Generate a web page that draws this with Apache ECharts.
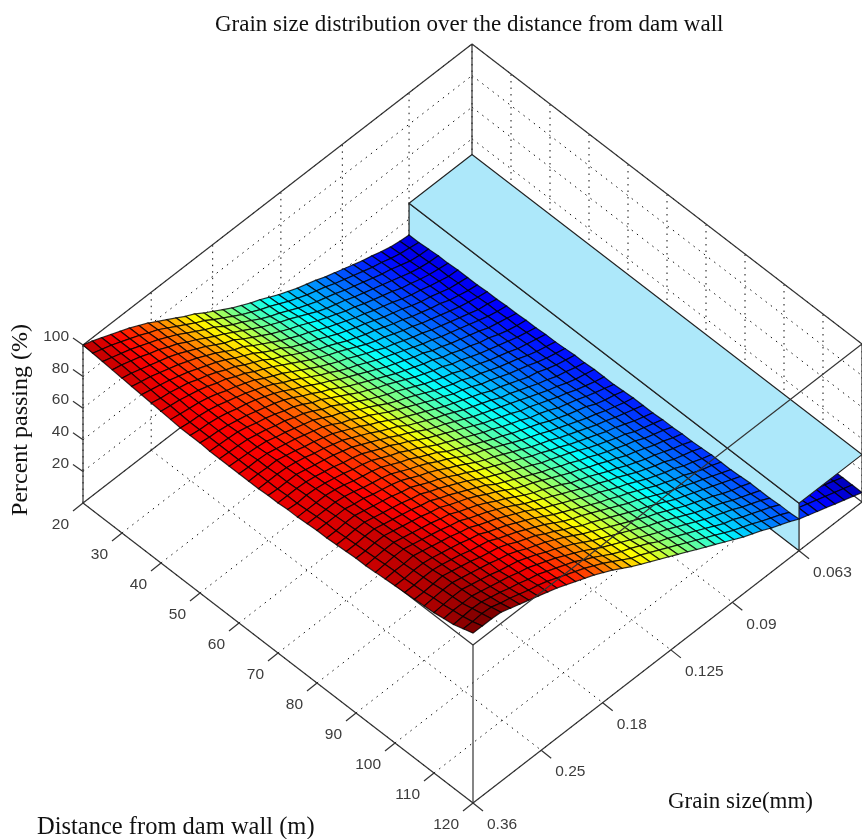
<!DOCTYPE html>
<html><head><meta charset="utf-8">
<style>html,body{margin:0;padding:0;background:#fff}#c{width:862px;height:839px}</style>
<script src="https://cdn.jsdelivr.net/npm/echarts@6/dist/echarts.min.js"></script>
</head><body><div id="c"></div>
<script>
const chartTitle = 'Grain size distribution over the distance from dam wall';
const distanceTicks = [20,30,40,50,60,70,80,90,100,110,120];
const grainTicks = [0.36,0.25,0.18,0.125,0.09,0.063];
const percentTicks = [20,40,60,80,100];
const blockHeight = 30;
const distances = [20,22.5,25,27.5,30,32.5,35,37.5,40,42.5,45,47.5,50,52.5,55,57.5,60,62.5,65,67.5,70,72.5,75,77.5,80,82.5,85,87.5,90,92.5,95,97.5,100,102.5,105,107.5,110,112.5,115,117.5,120];
const grains = [.36,.3425,.3259,.31,.295,.2807,.267,.2541,.2417,.23,.2188,.2082,.1981,.1885,.1793,.1706,.1623,.1544,.1469,.1398,.133,.1265,.1204,.1145,.109,.1037,.0986,.0938,.0893,.0849,.0808,.0769,.0731,.0696,.0662,.063,.06,.0572,.0545,.052,.0495,.0472,.045];
const percentPassing = [
[100,98,95.5,93,90.5,88,85,82,78.5,75,71.5,68,65,61,57.5,54,50.5,47.5,44.5,42,39,36,33.5,31,29,27,24.5,22.5,20.5,18.5,16.5,15,13,11.5,10.5,10,9,8,7.5,7,6,5,4],
[99.5,97.5,95.5,93,90.5,88,85,82.5,79,75.5,72,68.5,65.5,61.5,58,54.5,51,48,45,42.5,39.5,36.5,34,31.5,29.5,27.5,25,23,21,19,17,15.5,13.5,12,11,10,9,8,7.5,7,6,5,4],
[99,97,95,93,90.5,88,85.5,82.5,79.5,76,72.5,69,66,62,58.5,55.5,52,48.5,45.5,43,40,37,34.5,32,30,28,25.5,23.5,21.5,19.5,17.5,16,14,12,11,10.5,9.5,8.5,8,7,6,5,4],
[98.5,97,95,93,90.5,88.5,85.5,83,79.5,76.5,73,69.5,66.5,63,59.5,56,52.5,49.5,46.5,44,41,38,35,32.5,30.5,28.5,26,24,22,20,18,16,14,12.5,11.5,11,9.5,8.5,8,7.5,6.5,5,4],
[98,96.5,94.5,92.5,90.5,88.5,86,83,80,77,73.5,70,67.5,63.5,60,56.5,53,50,47,44.5,41.5,38.5,36,33.5,31,29,26.5,24.5,22.5,20.5,18,16.5,14.5,13,12,11,10,9,8,7.5,6.5,5.5,4],
[97.5,96,94.5,92.5,90.5,88.5,86,83.5,80.5,77.5,74,70.5,68,64,60.5,57,53.5,50.5,47.5,45,42,39,36.5,34,31.5,29.5,27,25,23,20.5,18.5,17,15,13.5,12,11.5,10,9,8.5,7.5,6.5,5.5,4.5],
[97,95.5,94,92.5,90.5,88.5,86,83.5,81,78,74.5,71.5,68.5,64.5,61,58,54,51,48,45.5,42.5,39.5,37,34.5,32.5,30,27.5,25.5,23.5,21,19,17.5,15.5,13.5,12.5,11.5,10.5,9,8.5,8,6.5,5.5,4.5],
[96.5,95,94,92.5,91,88.5,86.5,84,81,78.5,75,72,69,65,62,58.5,55,52,48.5,46,43,40,37.5,35,33,30.5,28,26,23.5,21.5,19.5,18,15.5,14,12.5,11.5,10.5,9.5,8.5,8,6.5,5.5,4.5],
[96,95,94,92.5,91,89,86.5,84.5,81.5,79,75.5,72.5,69.5,66,62.5,59,55.5,52.5,49.5,47,44,41,38,35.5,33.5,31,28.5,26.5,24,22,20,18,16,14.5,13,12,11,9.5,9,8,7,5.5,4.5],
[95.5,94.5,93.5,92.5,91,89,86.5,84.5,82,79.5,76,73,70,66.5,63,59.5,56,53,50,47.5,44.5,41.5,39,36,34,31.5,29,27,24.5,22.5,20.5,18.5,16.5,14.5,13.5,12,11,10,9,8,7,5.5,4.5],
[95,94,93.5,92.5,91,89,87,85,82.5,80,77,73.5,70.5,67,63.5,60,57,53.5,50.5,48,45,42,39.5,37,34.5,32,29.5,27.5,25,23,21,19,17,15,13.5,12.5,11,10,9,8,7,6,4.5],
[95,94,93.5,92.5,91,89,87.5,85.5,83,80.5,77.5,74,71,67.5,64,61,57.5,54.5,51.5,48.5,45.5,42.5,40,37.5,35,33,30,28,25.5,23.5,21.5,19.5,17,15.5,14,12.5,11.5,10,9.5,8.5,7,6,4.5],
[95,94,93.5,92.5,91,89.5,87.5,85.5,83.5,81,78,74.5,71.5,68,65,61.5,58,55,52,49,46,43,40.5,38,35.5,33.5,30.5,28.5,26,24,21.5,20,17.5,15.5,14,13,11.5,10.5,9.5,8.5,7,6,4.5],
[94.5,94,93.5,93,91.5,89.5,88,86,83.5,81.5,78.5,75,72.5,69,65.5,62,58.5,55.5,52.5,50,47,44,41,38.5,36,34,31,29,26.5,24,22,20,18,16,14.5,13,12,10.5,9.5,8.5,7.5,6,4.5],
[94.5,94,93.5,93,91.5,90,88,86.5,84,82,79,75.5,73,69.5,66,62.5,59,56,53,50.5,47.5,44.5,41.5,39,36.5,34.5,31.5,29.5,27,24.5,22.5,20.5,18,16.5,15,13.5,12,11,10,8.5,7.5,6,4.5],
[94.5,94,93.5,93,92,90,88.5,86.5,84.5,82.5,79.5,76,73.5,70,66.5,63.5,60,56.5,53.5,51,48,45,42,39.5,37,35,32,30,27.5,25,23,21,18.5,16.5,15,13.5,12.5,11,10,9,7.5,6,5],
[94.5,94,94,93.5,92,90.5,89,87,85,83,80,76.5,74,70.5,67.5,64,60.5,57.5,54.5,51.5,48.5,45.5,43,40,38,35.5,32.5,30.5,28,25.5,23.5,21.5,19,17,15.5,14,12.5,11,10,9,7.5,6,5],
[94.5,94.5,94,94,92.5,91,89,87.5,85.5,83.5,80.5,77.5,74.5,71,68,64.5,61,58,55,52,49,46,43.5,41,38.5,36,33,31,28.5,26,23.5,22,19.5,17.5,16,14.5,13,11.5,10,9,7.5,6.5,5],
[94.5,94.5,94.5,94,93,91.5,89.5,88,86,84,81,78,75,71.5,68.5,65.5,61.5,58.5,55.5,52.5,50,47,44,41.5,39,36.5,33.5,31.5,29,26.5,24,22,19.5,18,16,14.5,13,11.5,10.5,9,8,6.5,5],
[95,94.5,94.5,94.5,93,91.5,90,88.5,86.5,84.5,81.5,78.5,75.5,72.5,69,66,62.5,59,56,53.5,50.5,47.5,44.5,42,39.5,37,34.5,32,29.5,27,24.5,22.5,20,18,16.5,15,13.5,12,10.5,9.5,8,6.5,5],
[95,95,95,94.5,93.5,92,90.5,88.5,87,85,82,79,76.5,73,70,66.5,63,60,57,54,51,48,45,42.5,40,37.5,34.5,32.5,30,27.5,25,23,20.5,18.5,16.5,15,13.5,12,10.5,9.5,8,6.5,5],
[95.5,95,95.5,95,94,92.5,91,89,87.5,85.5,82.5,79.5,77,73.5,70.5,67,63.5,60.5,57.5,54.5,51.5,48.5,46,43,40.5,38,35,33,30.5,27.5,25.5,23.5,21,19,17,15,13.5,12,11,9.5,8,6.5,5],
[95.5,95.5,95.5,95.5,94.5,93,91,89.5,88,86,83,80,77.5,74,71,68,64,61,58,55,52,49,46.5,43.5,41,38.5,36,33,30.5,28,26,24,21,19,17.5,15.5,14,12.5,11,10,8,6.5,5],
[96,96,96,96,95,93.5,91.5,90,88.5,86.5,83.5,80.5,78,75,71.5,68.5,65,61.5,58.5,56,53,50,47,44,41.5,39,36,33.5,31,28.5,26,24,21.5,19.5,17.5,16,14,12.5,11,10,8.5,6.5,5],
[96.5,96.5,96.5,96.5,95,94,92,90.5,89,87,84,81,78.5,75.5,72,69,65.5,62,59,56.5,53.5,50.5,47.5,44.5,42,39.5,36.5,34,31.5,29,26.5,24.5,22,20,18,16,14.5,12.5,11.5,10,8.5,7,5],
[96.5,96.5,97,97,95.5,94,92.5,91,89,87.5,84.5,81.5,79,76,72.5,69.5,66,63,60,57,54,51,48,45.5,42.5,40,37,34.5,32,29.5,27,25,22.5,20,18,16,14.5,13,11.5,10,8.5,7,5.5],
[97,97,97.5,97.5,96,94.5,93,91.5,89.5,88,85,82.5,79.5,76.5,73.5,70,66.5,63.5,60.5,57.5,54.5,51.5,48.5,46,43.5,41,38,35,32.5,30,27.5,25.5,22.5,20.5,18.5,16.5,15,13,12,10,8.5,7,5.5],
[97.5,97.5,98,98,96.5,95,93.5,92,90,88.5,85.5,83,80,77,74,71,67,64,61,58,55,52,49.5,46.5,44,41,38.5,35.5,33,30.5,28,26,23,21,19,16.5,15,13.5,12,10.5,8.5,7,5.5],
[98,98,98.5,98.5,97,95.5,94,92.5,90.5,89,86,83.5,81,78,74.5,71.5,68,64.5,61.5,59,56,53,50,47,44.5,41.5,39,36,33.5,30.5,28.5,26,23.5,21.5,19,17,15.5,13.5,12,10.5,9,7,5.5],
[98,98.5,99,99,97.5,96,94.5,93,91,89.5,86.5,84,81.5,78.5,75,72,68.5,65,62,59.5,56.5,53.5,50,47.5,45,42,39,36.5,33.5,31,28.5,26.5,24,21.5,19.5,17,15.5,14,12,10.5,9,7,5.5],
[98.5,99,99.5,99.5,98,96.5,95,93.5,91.5,90,87,84.5,82,79,76,72.5,69,66,63,60,57,54,51,48,45.5,42.5,40,37,34,31.5,29,27,24,22,20,17.5,16,14,12,10.5,9,7,5.5],
[99,99.5,99.5,100,98.5,97,95.5,94,92,90.5,87.5,85,82.5,79.5,76.5,73.5,70,66.5,63.5,60.5,57.5,54.5,51.5,49,46,43,40.5,37.5,34.5,32,29.5,27.5,24.5,22.5,20,18,16,14,12.5,11,9,7,5.5],
[99.5,99.5,100,100,99,97.5,96,94.5,92.5,91,88,85.5,83,80,77,74,70.5,67,64,61,58,55,52,49.5,46.5,44,41,38,35,32.5,30,28,25,22.5,20.5,18,16,14.5,12.5,11,9,7,5.5],
[100,100,100.5,100.5,99.5,98,96.5,94.5,93,91.5,88.5,86,83.5,80.5,77.5,74.5,71,67.5,64.5,62,59,56,53,50,47,44.5,41.5,38.5,35.5,33,30.5,28,25.5,23,20.5,18,16.5,14.5,13,11,9,7,5.5],
[100.5,100.5,101,101.5,100,98.5,97,95,93.5,92,89.5,86.5,84,81.5,78,75,71.5,68.5,65,62.5,59.5,56.5,53.5,50.5,47.5,45,42,39,36,33.5,31,28.5,26,23.5,21,18.5,16.5,15,13,11,9.5,7.5,5.5],
[101,101.5,102,102,100.5,99,97.5,96,94,92.5,90,87,84.5,82,79,76,72.5,69,66,63,60,57,54,51,48,45.5,42.5,39.5,36.5,34,31.5,29,26,23.5,21.5,19,17,15,13,11.5,9.5,7.5,5.5],
[101.5,102,102.5,102.5,101,99.5,98,96,94.5,93,90.5,88,85,82.5,79.5,76.5,73,69.5,66.5,63.5,60.5,57.5,54.5,51.5,49,46,43,40,37,34.5,32,29.5,26.5,24,21.5,19,17,15,13,11.5,9.5,7.5,6],
[102.5,103,103,103,101.5,100,98.5,97,95,93.5,91,88.5,86,83,80,77,73.5,70,67,64,61,58,55,52,49.5,46.5,43.5,40.5,37.5,35,32.5,30,27,24.5,22,19,17.5,15.5,13.5,11.5,9.5,7.5,6],
[103.5,104,104.5,104,102.5,101,99,97.5,95.5,94,91.5,89,86.5,84,80.5,77.5,74,70.5,67.5,65,62,59,55.5,53,50,47,44,41,38,35,33,30,27.5,25,22.5,19.5,17.5,15.5,13.5,12,10,8,6],
[105.5,105.5,106,105.5,103.5,102,100,98,96.5,94.5,92,89.5,87,84.5,81.5,78.5,75,71.5,68,65.5,62.5,59.5,56.5,53.5,50.5,47.5,44.5,41.5,38.5,35.5,33,30.5,27.5,25,22.5,19.5,18,16,14,12,10,8,6],
[107.5,107.5,107.5,107,105,103,101,99,97,95,92.5,90,87.5,85,82,79,75.5,72,69,66,63,60,57,54,51,48,45,42,39,36,33.5,31,28,25.5,23,20,18,16,14,12,10,8,6]
];

// view of the box: where the scene's three unit directions land on the page plane
const view = {ox:83, oy:503, tx:390, ty:300, sx:389, sy:-301, zy:-1.58};
const dMin = 20, dMax = 120, gMax = 0.36, gMin = 0.045, pTop = 100;
function scene(d,g,p){
  const t=(d-dMin)/(dMax-dMin), s=Math.log(gMax/g)/Math.log(gMax/gMin);
  return [view.ox+view.tx*t+view.sx*s, view.oy+view.ty*t+view.sy*s+view.zy*p];
}
const zMin=0, zMax=106;
function jet(p){
  const v=Math.max(0,Math.min(1,(p-zMin)/(zMax-zMin)));
  const c=x=>Math.round(255*Math.max(0,Math.min(1,1.5-Math.abs(4*v-x))));
  return 'rgb('+c(3)+','+c(2)+','+c(1)+')';
}
function polySeries(name,z,polys,style){
  return {type:'custom',name,coordinateSystem:'cartesian2d',z,silent:true,clip:false,animation:false,
    data:polys.map((_,i)=>[i,0]),
    renderItem(params,api){
      const it=polys[params.dataIndex];
      return {type:'polygon',shape:{points:it.pts.map(q=>api.coord(scene(q[0],q[1],q[2])))},
        style:Object.assign({fill:it.fill},style)};
    }};
}
function lineSeries(name,z,segs,style){
  return {type:'custom',name,coordinateSystem:'cartesian2d',z,silent:true,clip:false,animation:false,
    data:segs.map((_,i)=>[i,0]),
    renderItem(params,api){
      const q=segs[params.dataIndex], a=api.coord(scene(q[0][0],q[0][1],q[0][2])), b=api.coord(scene(q[1][0],q[1][1],q[1][2]));
      return {type:'line',shape:{x1:a[0],y1:a[1],x2:b[0],y2:b[1]},style};
    }};
}
function tickSeries(name,z,items){
  return {type:'custom',name,coordinateSystem:'cartesian2d',z,silent:true,clip:false,animation:false,
    data:items.map((_,i)=>[i,0]),
    renderItem(params,api){
      const it=items[params.dataIndex], a=api.coord(scene(it.at[0],it.at[1],it.at[2]));
      return {type:'group',children:[
        {type:'line',shape:{x1:a[0],y1:a[1],x2:a[0]+it.dx,y2:a[1]+it.dy},style:{stroke:'#333',lineWidth:1.2}},
        {type:'text',style:{text:it.text,x:a[0]+it.dx+it.lx,y:a[1]+it.dy+it.ly,align:it.align,verticalAlign:'middle',
          fill:'#3c3c3c',font:'15.5px "Liberation Sans"'}}
      ]};
    }};
}
const cells=[], cellsBehind=[];
for(let j=grains.length-2;j>=0;j--){
  for(let i=0;i<distances.length-1;i++){
    const q=[[i,j],[i+1,j],[i+1,j+1],[i,j+1]].map(k=>[distances[k[0]],grains[k[1]],percentPassing[k[0]][k[1]]]);
    const mean=(q[0][2]+q[1][2]+q[2][2]+q[3][2])/4;
    (grains[j]<=0.063?cellsBehind:cells).push({pts:q,fill:jet(mean)});
  }
}
const dotted=[];
distanceTicks.forEach(d=>{
  dotted.push([[d,gMax,0],[d,gMin,0]]);
  dotted.push([[d,gMin,0],[d,gMin,pTop]]);
});
grainTicks.forEach(g=>{
  dotted.push([[dMin,g,0],[dMax,g,0]]);
  dotted.push([[dMin,g,0],[dMin,g,pTop]]);
});
percentTicks.forEach(p=>{
  dotted.push([[dMin,gMax,p],[dMin,gMin,p]]);
  dotted.push([[dMin,gMin,p],[dMax,gMin,p]]);
});
const backEdges=[
  [[dMin,gMax,pTop],[dMin,gMin,pTop]],[[dMin,gMin,pTop],[dMax,gMin,pTop]],
  [[dMin,gMin,0],[dMin,gMin,pTop]],[[dMax,gMin,0],[dMax,gMin,pTop]],
  [[dMin,gMax,0],[dMin,gMin,0]],[[dMin,gMin,0],[dMax,gMin,0]],
  [[dMin,gMax,pTop],[dMax,gMax,pTop]]
];
const frontEdges=[
  [[dMin,gMax,0],[dMin,gMax,pTop]],[[dMax,gMax,0],[dMax,gMax,pTop]],
  [[dMax,gMax,pTop],[dMax,gMin,pTop]],
  [[dMin,gMax,0],[dMax,gMax,0]],[[dMax,gMax,0],[dMax,gMin,0]]
];
const gBlock=0.063;
const blockWall=[{fill:'#ade8fa',pts:[[dMin,gBlock,0],[dMax,gBlock,0],[dMax,gBlock,blockHeight],[dMin,gBlock,blockHeight]]}];
const blockTop=[{fill:'#ade8fa',pts:[[dMin,gBlock,blockHeight],[dMax,gBlock,blockHeight],[dMax,gMin,blockHeight],[dMin,gMin,blockHeight]]}];
const ticks=[];
percentTicks.forEach(p=>ticks.push({at:[dMin,gMax,p],dx:-10,dy:-7,lx:-4,ly:-1,align:'right',text:String(p)}));
distanceTicks.forEach(d=>ticks.push({at:[d,gMax,0],dx:-10,dy:8,lx:-4,ly:14,align:'right',text:String(d)}));
grainTicks.forEach(g=>ticks.push({at:[dMax,g,0],dx:10,dy:8,lx:4,ly:14,align:'left',text:String(g)}));

const chart=echarts.init(document.getElementById('c'),null,{renderer:'canvas'});
chart.setOption({
  animation:false,backgroundColor:'#fff',
  title:{text:chartTitle,left:215,top:13,padding:0,textStyle:{fontFamily:'Liberation Serif',fontWeight:'normal',fontSize:23,color:'#111'}},
  grid:{left:0,top:0,width:862,height:839},
  xAxis:{type:'value',min:0,max:862,show:false},
  yAxis:{type:'value',min:0,max:839,inverse:true,show:false},
  graphic:[
    {type:'text',x:21,y:420,rotation:Math.PI/2,style:{text:'Percent passing (%)',align:'center',verticalAlign:'middle',fill:'#111',font:'24px "Liberation Serif"'}},
    {type:'text',left:37,top:815,style:{text:'Distance from dam wall (m)',fill:'#111',font:'24.5px "Liberation Serif"'}},
    {type:'text',left:668,top:790,style:{text:'Grain size(mm)',fill:'#111',font:'23px "Liberation Serif"'}}
  ],
  series:[
    lineSeries('grid',1,dotted,{stroke:'#111',lineWidth:1,lineDash:[1.5,5]}),
    lineSeries('backEdges',2,backEdges,{stroke:'#333',lineWidth:1.2}),
    polySeries('surfaceBehind',3,cellsBehind,{stroke:'rgba(0,0,0,.8)',lineWidth:1.2}),
    polySeries('blockWall',4,blockWall,{stroke:'#222',lineWidth:1.2}),
    polySeries('surface',5,cells,{stroke:'rgba(0,0,0,.8)',lineWidth:1.2}),
    polySeries('blockTop',6,blockTop,{stroke:'#222',lineWidth:1.2}),
    lineSeries('frontEdges',7,frontEdges,{stroke:'#333',lineWidth:1.2}),
    tickSeries('ticks',8,ticks)
  ]
});
</script></body></html>
